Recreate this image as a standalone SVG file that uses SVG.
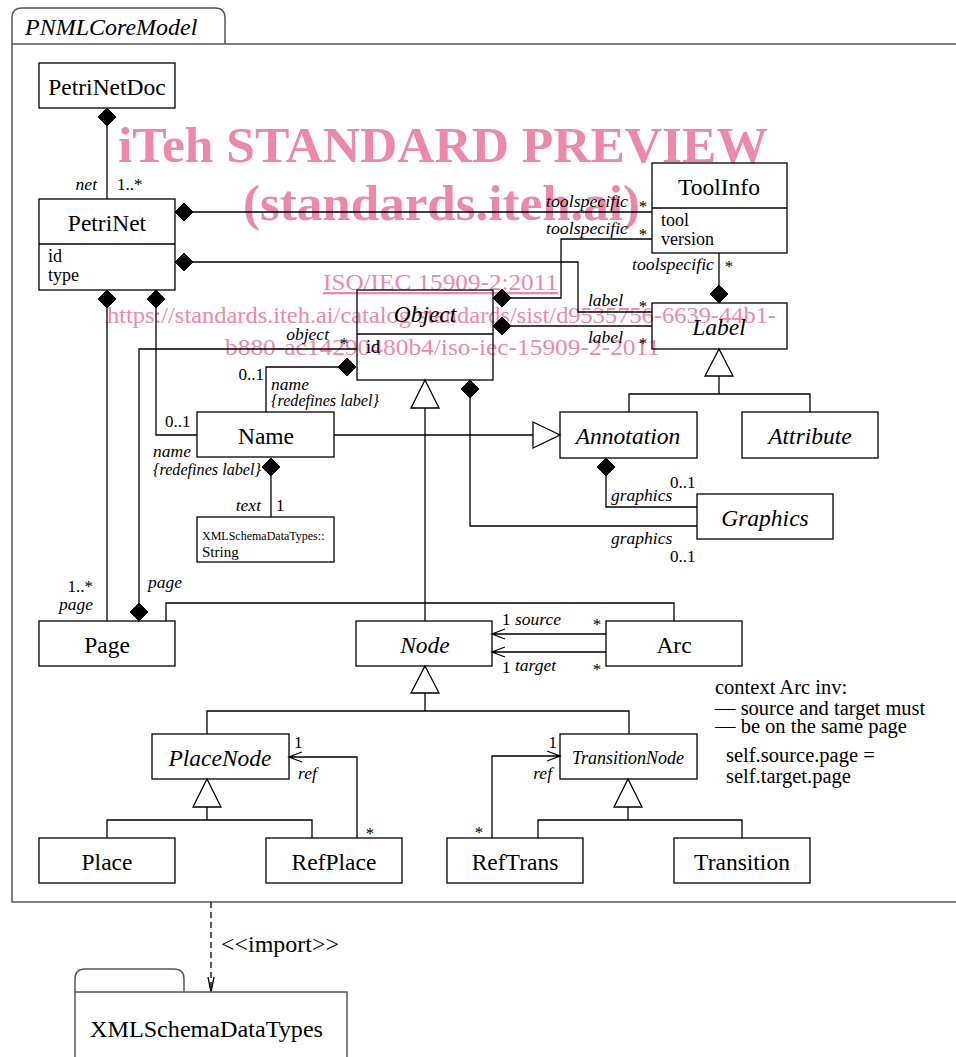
<svg xmlns="http://www.w3.org/2000/svg" width="956" height="1057" viewBox="0 0 956 1057">
<style>
.box{fill:none;stroke:#000;stroke-width:1.3}
.frame{fill:none;stroke:#555;stroke-width:1.5}
.ln{fill:none;stroke:#000;stroke-width:1.3}
.dia{fill:#000;stroke:#000;stroke-width:1}
.tri{fill:#fff;stroke:#000;stroke-width:1.3}
.t{font-family:"Liberation Serif","Times New Roman",serif;fill:#000}
.cn{font-size:23.5px;text-anchor:middle}
.it{font-style:italic}
.at{font-size:18px}
.lb{font-size:17.5px;font-style:italic}
.mu{font-size:17px}
.nt{font-size:20.5px}
.end{text-anchor:end}
.mid{text-anchor:middle}
.wm{font-family:"Liberation Serif","Times New Roman",serif;fill:#ec89a8}
.wb{font-size:51px;font-weight:bold}
.ws{font-size:23px}
</style>

<g id="watermark">
<text class="wm wb" x="118" y="162" textLength="650" lengthAdjust="spacingAndGlyphs">iTeh STANDARD PREVIEW</text>
<text class="wm wb" x="243" y="220" textLength="397" lengthAdjust="spacingAndGlyphs">(standards.iteh.ai)</text>
<text class="wm ws" x="323" y="290" textLength="235" lengthAdjust="spacingAndGlyphs" text-decoration="underline">ISO/IEC 15909-2:2011</text>
<text class="wm ws" x="107" y="323" textLength="669" lengthAdjust="spacingAndGlyphs">https://standards.iteh.ai/catalog/standards/sist/d9535756-6639-44b1-</text>
<text class="wm ws" x="225" y="355" textLength="435" lengthAdjust="spacingAndGlyphs">b880-ac14290480b4/iso-iec-15909-2-2011</text>
</g>

<g id="PNMLCoreModel">
<path class="frame" d="M12,44 V18 Q12,8 22,8 H215 Q225,8 225,18 V44"/>
<path class="frame" d="M960,44 H12 V902 H960"/>
<text class="t it" x="25" y="35" font-size="24">PNMLCoreModel</text>
</g>

<g id="connectors">
<!-- PetriNetDoc - PetriNet -->
<polygon class="dia" points="107,108 116,117 107,126 98,117"/>
<path class="ln" d="M107,126 V199"/>
<text class="t lb end" x="97" y="190">net</text>
<text class="t mu" x="117" y="190">1..*</text>
<!-- PetriNet - ToolInfo -->
<polygon class="dia" points="175,212 184,203 193,212 184,221"/>
<path class="ln" d="M193,212 H652"/>
<text class="t lb" x="546" y="207" textLength="82" lengthAdjust="spacingAndGlyphs">toolspecific</text>
<text class="t mu mid" x="643" y="212">*</text>
<!-- PetriNet - Label -->
<polygon class="dia" points="175,262 184,253 193,262 184,271"/>
<path class="ln" d="M193,262 H578 V312 H652"/>
<text class="t lb end" x="623" y="306">label</text>
<text class="t mu mid" x="643" y="312">*</text>
<!-- Object - ToolInfo -->
<polygon class="dia" points="493,298 502,289 511,298 502,307"/>
<path class="ln" d="M511,298 H561 V239 H652"/>
<text class="t lb" x="546" y="234" textLength="82" lengthAdjust="spacingAndGlyphs">toolspecific</text>
<text class="t mu mid" x="643" y="240">*</text>
<!-- Object - Label -->
<polygon class="dia" points="493,326 502,317 511,326 502,335"/>
<path class="ln" d="M511,326 H652"/>
<text class="t lb end" x="623" y="343">label</text>
<text class="t mu mid" x="643" y="349">*</text>
<!-- ToolInfo - Label -->
<polygon class="dia" points="719,285 728,294 719,303 710,294"/>
<path class="ln" d="M719,253 V285"/>
<text class="t lb" x="632" y="270" textLength="82" lengthAdjust="spacingAndGlyphs">toolspecific</text>
<text class="t mu mid" x="729" y="272">*</text>
<!-- PetriNet - Page -->
<polygon class="dia" points="107,290 116,299 107,308 98,299"/>
<path class="ln" d="M107,308 V621"/>
<text class="t mu end" x="93" y="592">1..*</text>
<text class="t lb end" x="93" y="610">page</text>
<!-- PetriNet - Name -->
<polygon class="dia" points="156,290 165,299 156,308 147,299"/>
<path class="ln" d="M156,308 V435 H197"/>
<text class="t mu" x="165" y="427">0..1</text>
<text class="t lb" x="153" y="457">name</text>
<text class="t lb" x="153" y="475" textLength="108" lengthAdjust="spacingAndGlyphs">{redefines label}</text>
<!-- Object - Name -->
<polygon class="dia" points="338,367 347,358 356,367 347,376"/>
<path class="ln" d="M338,367 H266 V412"/>
<text class="t mu end" x="264" y="380">0..1</text>
<text class="t lb" x="271" y="390">name</text>
<text class="t lb" x="271" y="406" textLength="108" lengthAdjust="spacingAndGlyphs">{redefines label}</text>
<!-- Name - String -->
<polygon class="dia" points="271,458 280,467 271,476 262,467"/>
<path class="ln" d="M271,476 V517"/>
<text class="t lb end" x="261" y="511">text</text>
<text class="t mu" x="276" y="511">1</text>
<!-- Page - Object -->
<polygon class="dia" points="139,603 148,612 139,621 130,612"/>
<path class="ln" d="M357,349 H139 V603"/>
<text class="t lb end" x="329" y="340">object</text>
<text class="t mu mid" x="344" y="349">*</text>
<text class="t lb" x="148" y="588">page</text>
<!-- Page - Arc -->
<path class="ln" d="M166,621 V603 H674 V621"/>
<!-- Arc source/target -->
<path class="ln" d="M606,634 H492 M505,629 L492,634 L505,639"/>
<path class="ln" d="M606,652 H492 M505,647 L492,652 L505,657"/>
<text class="t mu" x="502" y="625">1</text>
<text class="t lb" x="515" y="625">source</text>
<text class="t mu mid" x="597" y="630">*</text>
<text class="t mu" x="502" y="673">1</text>
<text class="t lb" x="515" y="671">target</text>
<text class="t mu mid" x="597" y="675">*</text>
<!-- Object generalization -->
<polygon class="tri" points="425,380 439,408 411,408"/>
<path class="ln" d="M425,408 V621"/>
<!-- Node generalization -->
<polygon class="tri" points="425,666 439,693 411,693"/>
<path class="ln" d="M425,693 V711 M207,734 V711 H629 V734"/>
<!-- PlaceNode generalization -->
<polygon class="tri" points="207,779 221,807 193,807"/>
<path class="ln" d="M207,807 V820 M107,838 V820 H312 V838"/>
<!-- RefPlace ref -->
<path class="ln" d="M357,838 V757 H289 M302,752 L289,757 L302,762"/>
<text class="t mu" x="294" y="748">1</text>
<text class="t lb" x="298" y="779">ref</text>
<text class="t mu mid" x="370" y="839">*</text>
<!-- TransitionNode generalization -->
<polygon class="tri" points="628,779 642,807 614,807"/>
<path class="ln" d="M628,807 V820 M538,838 V820 H742 V838"/>
<!-- RefTrans ref -->
<path class="ln" d="M492,838 V756 H560 M547,751 L560,756 L547,761"/>
<text class="t mu end" x="557" y="748">1</text>
<text class="t lb end" x="552" y="779">ref</text>
<text class="t mu mid" x="479" y="838">*</text>
<!-- Label generalization -->
<polygon class="tri" points="719,349 733,376 705,376"/>
<path class="ln" d="M719,376 V394 M629,412 V394 H810 V412"/>
<!-- Name - Annotation generalization -->
<path class="ln" d="M334,435 H533"/>
<polygon class="tri" points="533,422 560,435 533,448"/>
<!-- Annotation - Graphics -->
<polygon class="dia" points="606,458 615,467 606,476 597,467"/>
<path class="ln" d="M606,476 V507 H697"/>
<text class="t lb" x="611" y="501">graphics</text>
<text class="t mu" x="670" y="488">0..1</text>
<!-- Object - Graphics -->
<polygon class="dia" points="470,380 479,389 470,398 461,389"/>
<path class="ln" d="M470,398 V526 H697"/>
<text class="t lb" x="611" y="544">graphics</text>
<text class="t mu" x="670" y="562">0..1</text>
<!-- import -->
<path class="ln" d="M211,902 V992" stroke-dasharray="6,4"/>
<path class="ln" d="M208,977 L211,992 L214,977"/>
<text class="t" x="221" y="952" font-size="23" textLength="118" lengthAdjust="spacingAndGlyphs">&lt;&lt;import&gt;&gt;</text>
</g>

<g id="PetriNetDoc">
<rect class="box" x="39" y="63" width="136" height="45"/>
<text class="t cn" x="107" y="95">PetriNetDoc</text>
</g>
<g id="PetriNet">
<rect class="box" x="39" y="199" width="136" height="91"/>
<path class="ln" d="M39,244 H175"/>
<text class="t cn" x="107" y="231">PetriNet</text>
<text class="t at" x="48" y="262">id</text>
<text class="t at" x="48" y="281">type</text>
</g>
<g id="ToolInfo">
<rect class="box" x="652" y="163" width="135" height="90"/>
<path class="ln" d="M652,208 H787"/>
<text class="t cn" x="719" y="195">ToolInfo</text>
<text class="t at" x="661" y="226">tool</text>
<text class="t at" x="661" y="245">version</text>
</g>
<g id="Object">
<rect class="box" x="357" y="290" width="136" height="90"/>
<path class="ln" d="M357,334 H493"/>
<text class="t cn it" x="425" y="322">Object</text>
<text class="t at" x="366" y="353">id</text>
</g>
<g id="Label">
<rect class="box" x="652" y="303" width="135" height="46"/>
<text class="t cn it" x="719" y="335">Label</text>
</g>
<g id="Name">
<rect class="box" x="197" y="412" width="137" height="45"/>
<text class="t cn" x="266" y="444">Name</text>
</g>
<g id="Annotation">
<rect class="box" x="560" y="412" width="137" height="46"/>
<text class="t cn it" x="628" y="444">Annotation</text>
</g>
<g id="Attribute">
<rect class="box" x="742" y="412" width="136" height="46"/>
<text class="t cn it" x="810" y="444">Attribute</text>
</g>
<g id="String">
<rect class="box" x="197" y="517" width="137" height="45"/>
<text class="t" x="202" y="540" font-size="12">XMLSchemaDataTypes::</text>
<text class="t" x="202" y="557" font-size="15">String</text>
</g>
<g id="Graphics">
<rect class="box" x="697" y="494" width="136" height="45"/>
<text class="t cn it" x="765" y="526">Graphics</text>
</g>
<g id="Page">
<rect class="box" x="39" y="621" width="136" height="45"/>
<text class="t cn" x="107" y="653">Page</text>
</g>
<g id="Node">
<rect class="box" x="356" y="621" width="136" height="45"/>
<text class="t cn it" x="425" y="653">Node</text>
</g>
<g id="Arc">
<rect class="box" x="606" y="621" width="136" height="45"/>
<text class="t cn" x="674" y="653">Arc</text>
</g>
<g id="constraint">
<text class="t nt" x="715" y="694">context Arc inv:</text>
<text class="t nt" x="715" y="715">–– source and target must</text>
<text class="t nt" x="715" y="733">–– be on the same page</text>
<text class="t nt" x="726" y="762">self.source.page =</text>
<text class="t nt" x="726" y="783">self.target.page</text>
</g>
<g id="PlaceNode">
<rect class="box" x="152" y="734" width="137" height="45"/>
<text class="t cn it" x="220" y="766">PlaceNode</text>
</g>
<g id="TransitionNode">
<rect class="box" x="560" y="734" width="137" height="45"/>
<text class="t it mid" x="628" y="764" font-size="18">TransitionNode</text>
</g>
<g id="Place">
<rect class="box" x="39" y="838" width="136" height="45"/>
<text class="t cn" x="107" y="870">Place</text>
</g>
<g id="RefPlace">
<rect class="box" x="266" y="838" width="136" height="45"/>
<text class="t cn" x="334" y="870">RefPlace</text>
</g>
<g id="RefTrans">
<rect class="box" x="447" y="838" width="136" height="45"/>
<text class="t cn" x="515" y="870">RefTrans</text>
</g>
<g id="Transition">
<rect class="box" x="674" y="838" width="136" height="45"/>
<text class="t cn" x="742" y="870">Transition</text>
</g>
<g id="XMLSchemaDataTypes">
<path class="frame" d="M75,992 V979 Q75,969 85,969 H174 Q184,969 184,979 V992"/>
<path class="frame" d="M75,1062 V992 H347 V1062"/>
<text class="t" x="90" y="1037" font-size="23.5" textLength="233" lengthAdjust="spacingAndGlyphs">XMLSchemaDataTypes</text>
</g>
</svg>
